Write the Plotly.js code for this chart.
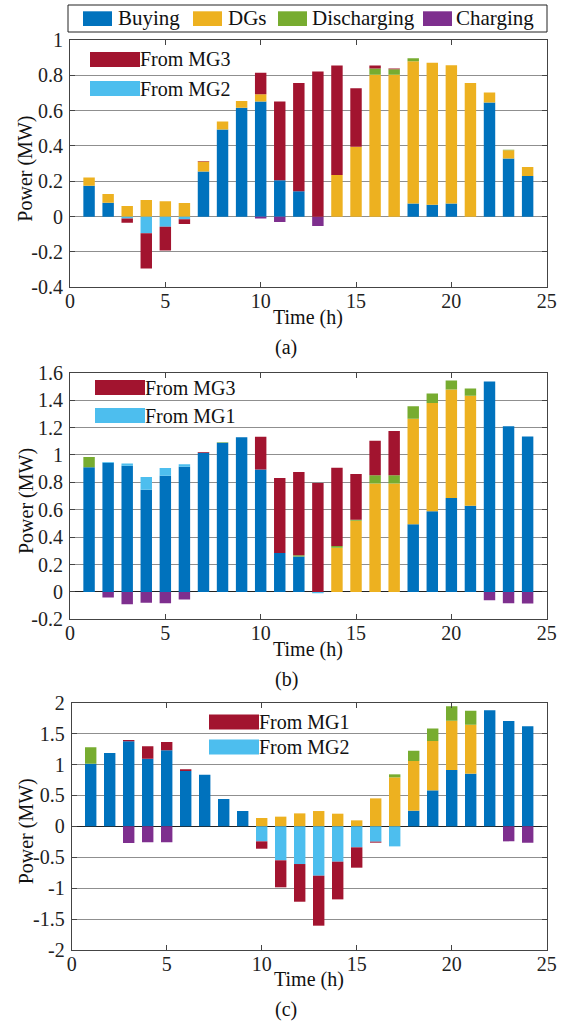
<!DOCTYPE html>
<html>
<head>
<meta charset="utf-8">
<script src="https://cdn.plot.ly/plotly-3.0.1.min.js"></script>
<style>html,body{margin:0;padding:0;background:#fff;}#chart{width:564px;height:1023px;}</style>
</head>
<body>
<div id="chart"></div>
<script>
// ---------- DATA ----------
const hours = [1,2,3,4,5,6,7,8,9,10,11,12,13,14,15,16,17,18,19,20,21,22,23,24];
const seriesNames = ["Buying", "DGs", "Discharging", "Charging"];

// Panel (a)
const aBuying = [0.175,0.079,0,0,0,0,0.255,0.493,0.616,0.652,0.206,0.144,0,0,0,0,0,0.074,0.068,0.074,0,0.646,0.329,0.230];
const aDGs = [0.047,0.049,0.060,0.094,0.087,0.077,0.057,0.045,0.039,0.041,0,0,0,0.236,0.395,0.803,0.803,0.806,0.803,0.783,0.757,0.057,0.047,0.051];
const aDischarging = [0,0,0,0,0,0,0,0,0,0,0,0,0,0,0,0.036,0.032,0.017,0,0,0,0,0.003,0];
const aCharging = [0,0,0,0,0,0,0,0,0,-0.010,-0.030,0,-0.053,0,0,0,0,0,0,0,0,0,0,0];
const aFromMG2 = [0,0,-0.011,-0.094,-0.057,-0.015,0,0,0,0,0,0,0,0,0,0,0,0,0,0,0,0,0,0];
const aFromMG3 = [0,0,-0.024,-0.199,-0.134,-0.027,0.003,0,0,0.121,0.446,0.613,0.822,0.620,0.332,0.017,0.004,0,0,0,0,0,0,0];

// Panel (b)
const bBuying = [0.909,0.943,0.921,0.746,0.848,0.914,1.016,1.089,1.128,0.894,0.284,0.258,0,0,0,0,0,0.493,0.588,0.685,0.629,1.536,1.210,1.135];
const bDGs = [0,0,0,0,0,0,0,0,0,0,0,0,0,0.323,0.520,0.792,0.792,0.771,0.790,0.793,0.802,0,0,0];
const bDischarging = [0.075,0,0,0,0,0,0,0.004,0,0,0,0.009,0,0.012,0.007,0.059,0.059,0.092,0.070,0.065,0.054,0,0,0];
const bCharging = [0,-0.041,-0.090,-0.080,-0.083,-0.056,0,0,0,0,0,0,0,0,0,0,0,0,0,0,0,-0.061,-0.083,-0.085];
const bFromMG1 = [0,0.005,0.017,0.092,0.056,0.017,0,0,0,0,0,0,-0.010,0,0,0,0,0,0,0,0,0,0,0];
const bFromMG3 = [0,0,0,0,0,0,0.005,0,0,0.238,0.547,0.608,0.795,0.571,0.333,0.252,0.323,0,0,0,0,0,0,0];

// Panel (c)
const cBuying = [1.015,1.187,1.376,1.096,1.230,0.896,0.836,0.443,0.248,0,0,0,0,0,0,0,0,0.254,0.583,0.912,0.853,1.878,1.705,1.619];
const cDGs = [0,0,0,0,0,0,0,0,0,0.135,0.157,0.210,0.248,0.205,0.097,0.453,0.793,0.804,0.799,0.799,0.793,0,0,0];
const cDischarging = [0.264,0,0,0,0,0,0,0,0,0,0,0,0,0,0,0,0.049,0.167,0.200,0.232,0.227,0,0,0];
const cCharging = [0,0,-0.270,-0.259,-0.259,0,0,0,0,0,0,0,0,0,0,0,0,0,0,0,0,0,-0.243,-0.264];
const cFromMG2 = [0,0,0,0,0,0,0,0,0,-0.243,-0.550,-0.610,-0.799,-0.572,-0.340,-0.248,-0.324,0,0,0,0,0,0,0];
const cFromMG1 = [0,0,0.022,0.200,0.135,0.027,0,0,0,-0.119,-0.437,-0.610,-0.809,-0.610,-0.329,-0.016,0,0,0,0,0,0,0,0];

// Tick labels
const xTickVals = [0,5,10,15,20,25];
const xTickText = ["0","5","10","15","20","25"];
const aTickVals = [-0.4,-0.2,0,0.2,0.4,0.6,0.8,1];
const aTickText = ["-0.4","-0.2","0","0.2","0.4","0.6","0.8","1"];
const bTickVals = [-0.2,0,0.2,0.4,0.6,0.8,1,1.2,1.4,1.6];
const bTickText = ["-0.2","0","0.2","0.4","0.6","0.8","1","1.2","1.4","1.6"];
const cTickVals = [-2,-1.5,-1,-0.5,0,0.5,1,1.5,2];
const cTickText = ["-2","-1.5","-1","-0.5","0","0.5","1","1.5","2"];

const panelLabels = ["(a)", "(b)", "(c)"];
const innerLegends = [["From MG3","From MG2"],["From MG3","From MG1"],["From MG1","From MG2"]];

// ---------- STYLE ----------
const W = 564, H = 1023;
const C = {buy:"#0072BD", dg:"#EDB120", dis:"#77AC30", chg:"#7E2F8E", red:"#A2142F", lblue:"#4DBEEE"};
const FONT = "Liberation Serif";
const px = x => x / W;
const py = y => 1 - y / H;

// pixel boxes of the three plot areas
const boxes = [
  {l:70,   r:546.7, t:40,    b:287.3},
  {l:70,   r:546.7, t:372.7, b:619.3},
  {l:71.7, r:546.7, t:702.8, b:949.9}
];

function bar(y, color, name, k) {
  const s = k === 0 ? "" : String(k + 1);
  return {type:"bar", x:hours, y:y, name:name, width:0.6,
    marker:{color:color, line:{width:0}},
    xaxis:"x"+s, yaxis:"y"+s, showlegend:false, hoverinfo:"skip"};
}

const panels = [
  [aBuying,aDGs,aDischarging,aCharging,aFromMG2,aFromMG3],
  [bBuying,bDGs,bDischarging,bCharging,bFromMG1,bFromMG3],
  [cBuying,cDGs,cDischarging,cCharging,cFromMG2,cFromMG1]
];
const lblueNames = ["From MG2","From MG1","From MG2"];
const redNames = ["From MG3","From MG3","From MG1"];

const traces = [];
panels.forEach((p,k) => {
  traces.push(bar(p[0], C.buy, seriesNames[0], k));
  traces.push(bar(p[1], C.dg, seriesNames[1], k));
  traces.push(bar(p[2], C.dis, seriesNames[2], k));
  traces.push(bar(p[3], C.chg, seriesNames[3], k));
  traces.push(bar(p[4], C.lblue, lblueNames[k], k));
  traces.push(bar(p[5], C.red, redNames[k], k));
});

const tickFont = {family:FONT, size:20, color:"#222"};
function xAxis(k) {
  const bx = boxes[k];
  const s = k === 0 ? "" : String(k+1);
  return {domain:[px(bx.l), px(bx.r)], anchor:"y"+s, range:[0,25],
    tickvals:xTickVals, ticktext:xTickText, ticks:"inside", ticklen:5, tickcolor:"#444",
    ticklabelstandoff:-4,
    showline:true, linecolor:"#444", linewidth:1, mirror:"ticks",
    showgrid:false, zeroline:false, tickfont:tickFont, fixedrange:true};
}
function yAxis(k, range, tv, tt, zc) {
  const bx = boxes[k];
  const s = k === 0 ? "" : String(k+1);
  return {domain:[py(bx.b), py(bx.t)], anchor:"x"+s, range:range,
    tickvals:tv, ticktext:tt, ticks:"inside", ticklen:5, tickcolor:"#444",
    ticklabelstandoff:2,
    showline:true, linecolor:"#444", linewidth:1, mirror:"ticks",
    showgrid:true, gridcolor:"#8f8f8f", gridwidth:1,
    zeroline:true, zerolinecolor:zc, zerolinewidth:1,
    tickfont:tickFont, fixedrange:true};
}

const shapes = [];
const annotations = [];

// Top legend box
shapes.push({type:"rect", xref:"paper", yref:"paper", x0:px(68), x1:px(547), y0:py(32), y1:py(5),
  line:{color:"#222", width:1}, fillcolor:"rgba(255,255,255,0)"});
const topLeg = [
  {sx:83, tx:116, c:C.buy, t:seriesNames[0]},
  {sx:193, tx:226, c:C.dg, t:seriesNames[1]},
  {sx:278, tx:310, c:C.dis, t:seriesNames[2]},
  {sx:423, tx:454, c:C.chg, t:seriesNames[3]}
];
topLeg.forEach(e => {
  shapes.push({type:"rect", xref:"paper", yref:"paper", x0:px(e.sx), x1:px(e.sx+29), y0:py(26), y1:py(11.3),
    line:{width:0}, fillcolor:e.c});
  annotations.push({xref:"paper", yref:"paper", x:px(e.tx), y:py(18.5), xanchor:"left", yanchor:"middle",
    text:e.t, showarrow:false, font:{family:FONT, size:21, color:"#111"}});
});

// Inner legends
const innerPos = [
  {x:90, y1:59.5, y2:88.5},
  {x:95, y1:387.5, y2:415.5},
  {x:209, y1:722, y2:747}
];
innerPos.forEach((p,k) => {
  [[p.y1, C.red, innerLegends[k][0]], [p.y2, C.lblue, innerLegends[k][1]]].forEach(([yc, col, txt]) => {
    shapes.push({type:"rect", xref:"paper", yref:"paper", x0:px(p.x), x1:px(p.x+50), y0:py(yc+7.5), y1:py(yc-7.5),
      line:{width:0}, fillcolor:col});
    annotations.push({xref:"paper", yref:"paper", x:px(p.x+48), y:py(yc), xanchor:"left", yanchor:"middle",
      text:txt, showarrow:false, font:{family:FONT, size:20, color:"#111"}});
  });
});

// Axis titles & panel labels
boxes.forEach((bx,k) => {
  const cy = (bx.t + bx.b)/2 + 5;
  annotations.push({xref:"paper", yref:"paper", x:px(26), y:py(cy), xanchor:"center", yanchor:"middle",
    text:"Power (MW)", textangle:-90, showarrow:false, font:{family:FONT, size:20, color:"#111"}});
  annotations.push({xref:"paper", yref:"paper", x:px((bx.l+bx.r)/2), y:py(bx.b+30), xanchor:"center", yanchor:"middle",
    text:"Time (h)", showarrow:false, font:{family:FONT, size:20, color:"#111"}});
  annotations.push({xref:"paper", yref:"paper", x:px(286), y:py(bx.b+60), xanchor:"center", yanchor:"middle",
    text:panelLabels[k], showarrow:false, font:{family:FONT, size:20, color:"#111"}});
});

const layout = {
  width:W, height:H, margin:{l:0, r:0, t:0, b:0},
  paper_bgcolor:"#fff", plot_bgcolor:"#fff",
  barmode:"relative", showlegend:false,
  xaxis:xAxis(0), xaxis2:xAxis(1), xaxis3:xAxis(2),
  yaxis:yAxis(0, [-0.4,1], aTickVals, aTickText, "#8f8f8f"),
  yaxis2:yAxis(1, [-0.2,1.6], bTickVals, bTickText, "#222"),
  yaxis3:yAxis(2, [-2,2], cTickVals, cTickText, "#222"),
  shapes:shapes, annotations:annotations,
  font:{family:FONT}
};

Plotly.newPlot("chart", traces, layout, {staticPlot:true, displayModeBar:false});
</script>
</body>
</html>
